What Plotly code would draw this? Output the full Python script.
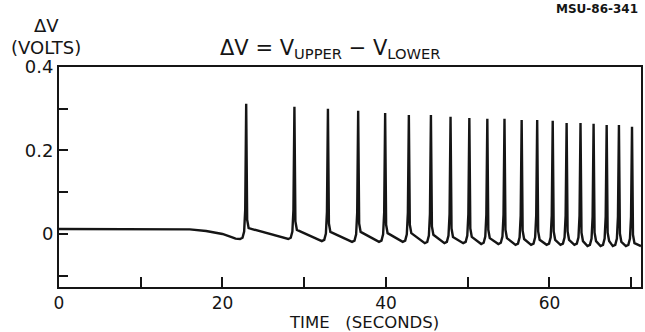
import plotly.graph_objects as go

# ---- data ----
baseline_t = [0.0, 14.0, 16.0, 18.0, 20.0, 21.2, 21.6]
baseline_v = [0.012, 0.012, 0.011, 0.007, 0.000, -0.008, -0.011]

spike_t = [22.9, 28.8, 32.9, 36.6, 39.9, 42.8, 45.5, 47.9, 50.2, 52.4,
           54.5, 56.6, 58.5, 60.4, 62.1, 63.8, 65.4, 67.0, 68.5, 70.1]
spike_peak = [0.312, 0.305, 0.300, 0.295, 0.290, 0.285, 0.285, 0.281, 0.278, 0.276,
              0.276, 0.273, 0.273, 0.271, 0.266, 0.266, 0.264, 0.261, 0.261, 0.257]
trough_before = [-0.012, -0.012, -0.017, -0.019, -0.019, -0.019, -0.022, -0.022, -0.022, -0.024,
                 -0.024, -0.026, -0.026, -0.026, -0.026, -0.026, -0.029, -0.029, -0.029, -0.029]
post_spike = [0.014, 0.010, 0.005, 0.005, 0.002, 0.002, -0.002, -0.007, -0.007, -0.010,
              -0.010, -0.012, -0.014, -0.014, -0.014, -0.017, -0.017, -0.017, -0.019, -0.022]
end_t = 71.2
end_v = -0.029

x_tickvals = [0, 10, 20, 30, 40, 50, 60, 70]
x_ticktext = ["0", "", "20", "", "40", "", "60", ""]
y_tickvals = [-0.1, 0.0, 0.1, 0.2, 0.3, 0.4]
y_ticktext = ["", "0", "", "0.2", "", "0.4"]

# ---- build the trace from the read key points ----
xs = list(baseline_t)
ys = list(baseline_v)
for ts, pk, tr, po in zip(spike_t, spike_peak, trough_before, post_spike):
    xs += [ts - 0.75, ts - 0.45, ts - 0.25, ts - 0.12, ts, ts + 0.12, ts + 0.3]
    ys += [tr, tr + 0.003, tr + 0.018, tr + 0.07, pk, po + 0.02, po]
xs.append(end_t)
ys.append(end_v)

FONT = "DejaVu Sans"
INK = "#151515"

fig = go.Figure()
fig.add_trace(go.Scatter(x=xs, y=ys, mode="lines",
                         line=dict(color=INK, width=2.4), hoverinfo="skip",
                         showlegend=False))

axis_common = dict(showline=True, linecolor=INK, linewidth=2, mirror=True,
                   ticks="inside", tickcolor=INK, tickwidth=2,
                   showgrid=False, zeroline=False)

fig.update_xaxes(range=[0, 71.2], tickmode="array", tickvals=x_tickvals,
                 ticktext=x_ticktext, ticklen=10,
                 tickfont=dict(family=FONT, size=17, color=INK), **axis_common)
fig.update_yaxes(range=[-0.127, 0.4], tickmode="array", tickvals=y_tickvals,
                 ticktext=y_ticktext, ticklen=9,
                 tickfont=dict(family=FONT, size=18, color=INK), **axis_common)

annotations = [
    dict(text="ΔV", x=-0.022, y=1.19, font=dict(size=18)),
    dict(text="(VOLTS)", x=-0.022, y=1.09, font=dict(size=18)),
    dict(text="ΔV = V<sub>UPPER</sub> − V<sub>LOWER</sub>", x=0.467, y=1.08,
         font=dict(size=21)),
    dict(text="<b>MSU-86-341</b>", x=0.998, y=1.265, xanchor="right",
         font=dict(size=12)),
    dict(text="TIME   (SECONDS)", x=0.524, y=-0.162, font=dict(size=16.5)),
]
for a in annotations:
    a.setdefault("xanchor", "center")
    a["yanchor"] = "middle"
    a["xref"] = "paper"
    a["yref"] = "paper"
    a["showarrow"] = False
    a["font"] = dict(family=FONT, color=INK, **a["font"])
    fig.add_annotation(**a)

fig.update_layout(width=645, height=332,
                  margin=dict(l=59, r=2, t=67, b=45),
                  paper_bgcolor="white", plot_bgcolor="white")

fig.write_html("out.html")
